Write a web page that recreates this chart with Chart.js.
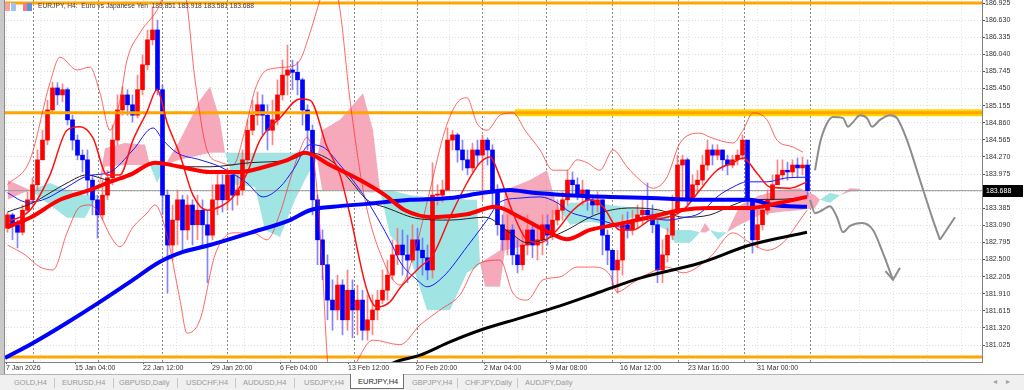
<!DOCTYPE html>
<html>
<head>
<meta charset="utf-8">
<title>EURJPY,H4</title>
<script src="https://cdn.jsdelivr.net/npm/chart.js@4.4.1/dist/chart.umd.min.js"></script>
<style>
  html, body { margin: 0; padding: 0; background: #fff; }
  body { width: 1024px; height: 390px; position: relative; overflow: hidden; font-family: "Liberation Sans", Arial, sans-serif; }
  #chart { position: absolute; left: 0; top: 0; }
  #frame { position: absolute; left: 0; top: 0; width: 4px; height: 374px; background: #c9c9c9; border-right: 1px solid #8c8c8c; }
  #head { position: absolute; left: 38px; top: 2px; font-size: 6.7px; color: #3a3a3a; white-space: pre; }
  .ico { position: absolute; top: 3px; height: 8px; }
  #tabs { position: absolute; left: 0; top: 374px; width: 1024px; height: 16px; background: #f0f0f0; border-top: 1px solid #b4b4b4; box-sizing: border-box; }
  .tab { position: absolute; top: 3px; font-size: 7.5px; color: #9a9a9a; white-space: nowrap; }
  .sep { position: absolute; top: 3px; width: 1px; height: 10px; background: #c8c8c8; }
  #active { position: absolute; left: 350px; top: -1px; width: 52px; height: 14px; background: #fff; border: 1px solid #707070; border-top: none; }
  #active span { position: absolute; left: 7px; top: 3px; font-size: 7.5px; color: #2a2a2a; white-space: nowrap; }
  .arr { position: absolute; top: 2px; font-size: 8px; color: #a0a0a0; font-family: "DejaVu Sans", sans-serif; }
</style>
</head>
<body>
<canvas id="chart" width="1024" height="374"></canvas>
<div id="frame"></div>
<div class="ico" style="left:5px;width:11px;background:linear-gradient(90deg,#f3a0a0 0 45%,#fff 45% 55%,#a0c4f0 55%);"></div>
<div class="ico" style="left:23px;width:9px;background:linear-gradient(90deg,#f08080 0 50%,#6090e0 50%);"></div>
<div id="head">EURJPY, H4:  Euro vs Japanese Yen  183.851 183.918 183.581 183.688</div>
<div id="tabs">
  <span class="tab" style="left:14px">GOLD,H4</span><div class="sep" style="left:54px"></div>
  <span class="tab" style="left:62px">EURUSD,H4</span><div class="sep" style="left:113px"></div>
  <span class="tab" style="left:119px">GBPUSD,Daily</span><div class="sep" style="left:177px"></div>
  <span class="tab" style="left:186px">USDCHF,H4</span><div class="sep" style="left:235px"></div>
  <span class="tab" style="left:243px">AUDUSD,H4</span><div class="sep" style="left:294px"></div>
  <span class="tab" style="left:304px">USDJPY,H4</span>
  <div id="active"><span>EURJPY,H4</span></div>
  <span class="tab" style="left:412px">GBPJPY,H4</span><div class="sep" style="left:457px"></div>
  <span class="tab" style="left:465px">CHFJPY,Daily</span><div class="sep" style="left:517px"></div>
  <span class="tab" style="left:525px">AUDJPY,Daily</span>
  <span class="arr" style="left:993px">&#9666;</span><span class="arr" style="left:1006px">&#9656;</span>
</div>
<script>
// EURJPY H4 candles (one bar every 5 px of the original picture)
var firstOpen = 183.04;
var closes = [
	183.27,183.10,182.97,183.35,183.53,183.79,184.22,184.56,185.08,185.46,
	185.34,185.43,184.91,184.56,184.30,184.22,183.87,183.53,183.27,183.61,
	183.91,184.56,185.08,185.34,185.17,184.99,185.43,185.86,186.29,186.46,
	185.43,183.61,182.75,183.18,183.53,183.01,183.44,183.10,183.35,183.10,
	182.92,183.53,183.79,183.53,183.96,183.61,183.70,184.22,184.73,184.99,
	185.17,184.99,184.73,184.91,185.34,185.68,185.77,185.73,185.60,185.08,
	184.73,183.53,182.84,182.41,181.80,181.63,182.06,181.46,181.97,181.63,
	181.80,181.28,181.46,181.63,181.80,181.97,182.23,182.58,182.75,182.58,
	182.49,182.84,182.66,182.53,182.32,183.61,183.61,183.70,184.56,184.65,
	184.39,184.22,184.08,184.39,184.30,184.56,184.39,183.70,183.10,182.84,
	183.01,182.58,182.41,182.75,183.01,182.75,182.84,183.10,182.92,183.18,
	183.35,183.53,183.87,183.79,183.61,183.70,183.53,183.44,183.53,182.92,
	182.66,182.32,182.49,183.10,183.01,183.18,183.27,183.35,183.27,183.10,
	182.32,182.58,182.92,183.35,184.13,184.22,183.53,183.79,183.87,184.13,
	184.39,184.30,184.39,184.22,184.13,184.22,184.30,184.56,183.53,182.84,
	183.10,183.35,183.53,183.79,183.96,184.04,184.01,184.13,184.08,184.13,
	183.688
];
var highs = [
	183.32,183.30,183.18,183.44,183.67,183.91,184.39,184.73,185.25,185.56,
	185.55,185.53,185.46,184.99,184.65,184.39,184.39,183.96,183.61,183.87,
	184.04,184.82,185.34,185.48,185.43,185.34,185.68,186.03,186.46,186.86,
	186.63,185.51,183.70,183.44,183.70,183.61,183.61,183.53,183.61,183.53,
	183.35,183.79,184.01,183.96,184.08,184.04,183.96,184.39,184.91,185.25,
	185.39,185.34,185.17,185.25,185.60,185.94,186.20,185.94,185.91,185.63,
	185.17,184.82,183.61,183.01,182.58,182.15,182.23,182.15,182.32,182.15,
	182.06,181.97,181.89,181.89,181.97,182.32,182.49,182.84,183.04,183.01,
	182.92,183.10,183.04,182.87,182.75,184.17,183.79,183.87,184.77,184.73,
	184.68,184.56,184.39,184.51,184.56,184.65,184.60,184.48,183.79,183.27,
	183.27,183.10,182.84,183.01,183.27,183.15,183.10,183.27,183.27,183.35,
	183.53,183.67,184.04,184.01,183.91,183.87,183.70,183.61,183.67,183.53,
	183.01,182.66,182.66,183.27,183.32,183.35,183.44,183.53,183.82,183.44,
	183.18,182.84,183.04,183.61,184.30,184.30,184.25,183.96,184.04,184.30,
	184.56,184.48,184.48,184.39,184.30,184.30,184.39,184.65,184.56,183.53,
	183.35,183.53,183.70,183.96,184.22,184.22,184.18,184.22,184.25,184.27,
	184.22
];
var lows = [
	182.97,182.84,182.70,182.92,183.32,183.44,183.70,184.22,184.48,185.05,
	185.17,185.22,184.82,184.39,184.22,184.01,183.61,183.27,182.87,183.18,
	183.53,183.79,184.48,184.99,184.99,184.87,184.94,185.34,185.77,186.20,
	185.34,183.27,181.92,182.49,182.75,182.66,182.84,182.75,182.84,182.75,
	182.10,182.84,183.27,183.32,183.35,183.35,183.44,183.61,184.13,184.65,
	184.82,184.65,184.39,184.48,184.82,185.25,185.34,185.43,185.34,184.82,
	184.39,183.27,182.41,182.15,181.46,181.28,181.46,181.20,181.28,181.15,
	181.20,181.11,181.11,181.20,181.46,181.74,181.80,182.15,182.41,182.23,
	182.10,182.46,182.32,182.23,182.15,182.18,183.44,183.49,183.69,184.39,
	184.18,184.04,183.96,184.01,184.13,183.53,184.13,183.44,182.92,182.66,
	182.58,182.41,182.27,182.32,182.58,182.53,182.49,182.58,182.75,182.84,
	183.10,183.18,183.44,183.61,183.53,183.44,183.35,183.27,183.32,182.58,
	182.41,182.06,181.92,182.23,182.87,182.92,183.04,183.10,183.15,182.96,
	182.10,182.10,182.46,182.84,183.27,183.53,183.44,183.53,183.67,183.79,
	184.04,184.13,184.22,184.04,183.96,184.08,184.13,184.22,183.35,182.61,
	182.70,183.01,183.27,183.53,183.79,183.87,183.87,183.91,183.91,183.96,
	183.58
];

// indicator lines: [bar position, price]
var maThickRed = [[0,183.06],[4.5,183.22],[10.5,183.53],[16.5,183.70],[20.5,183.84],[24.5,183.96],[29.5,184.17],[34.5,184.10],[40.5,184.01],[46.5,184.01],[51.5,184.10],[55.5,184.20],[59.5,184.34],[64.5,184.13],[70.5,183.87],[75.5,183.61],[79.5,183.35],[85.1,183.23],[91.9,183.28],[97.5,183.41],[102.5,183.23],[108.5,182.96],[111.9,182.85],[116.5,183.01],[121.5,183.10],[128.5,183.23],[134.5,183.35],[140.5,183.39],[148.5,183.39],[154.5,183.48],[159.9,183.58]];
var maThinBlack = [[0,183.32],[5.1,183.48],[8.5,183.65],[11.9,183.82],[15.9,183.96],[20.5,183.87],[25.1,184.01],[30.5,184.17],[35.5,184.10],[40.5,184.10],[48.5,184.17],[56.5,184.22],[60.5,184.34],[65.1,184.18],[68.5,183.87],[71.9,183.53],[75.9,183.39],[82.5,183.20],[88.5,183.18],[95.5,183.23],[100.5,182.96],[103.9,182.79],[106.5,182.82],[111.9,183.01],[116.5,183.23],[120.5,183.35],[125.1,183.39],[130.5,183.35],[135.1,183.23],[140.5,183.27],[145.1,183.44],[148.5,183.53],[155.1,183.54],[159.9,183.58]];
var maThinBlue = [[0,183.65],[3.9,183.49],[7.1,183.53],[11.9,183.75],[15.9,183.94],[20.5,184.01],[25.1,184.39],[29.1,184.77],[31.1,184.56],[33.9,184.34],[38.5,184.22],[42.5,184.10],[47.9,183.82],[51.1,183.58],[54.5,183.75],[57.1,184.04],[60.5,184.48],[63.1,184.44],[66.5,184.13],[70.5,183.70],[73.9,183.23],[77.1,182.72],[78.5,182.46],[81.9,182.15],[83.9,182.03],[87.1,182.20],[91.9,182.72],[95.9,183.18],[98.5,183.49],[102.5,183.56],[106.5,183.58],[109.9,183.48],[112.5,183.32],[115.9,183.23],[120.5,183.13],[122.5,183.06],[127.1,183.23],[131.9,183.18],[135.1,183.22],[138.5,183.30],[141.9,183.58],[145.1,183.75],[147.9,183.84],[151.9,183.84],[155.9,183.91],[159.9,183.92]];
var maThickBlue = [[-0.5,180.80],[5.1,181.06],[11.9,181.41],[18.5,181.77],[25.1,182.15],[30.5,182.46],[35.1,182.63],[40.5,182.75],[48.5,182.96],[56.5,183.18],[60.5,183.35],[65.1,183.41],[71.9,183.46],[80.5,183.53],[88.5,183.56],[95.1,183.65],[100.5,183.70],[105.1,183.65],[111.9,183.61],[120.5,183.58],[128.5,183.56],[138.5,183.53],[148.5,183.53],[153.1,183.44],[159.9,183.41]];
var maThickBlack = [[75.5,180.63],[77.5,180.73],[82.5,180.85],[88.5,181.08],[94.5,181.28],[102.5,181.49],[110.5,181.70],[118.5,181.94],[126.5,182.18],[138.5,182.44],[148.5,182.75],[159.9,182.97]];
var bbMiddle = [[0,183.15],[4.5,183.35],[8.5,183.96],[11.9,184.73],[14.5,184.79],[17.1,184.60],[19.9,183.96],[22.5,183.96],[25.1,184.56],[27.9,185.05],[29.9,185.43],[31.9,184.87],[34.5,184.30],[37.1,183.61],[39.9,183.35],[42.5,183.41],[45.1,183.58],[47.9,183.99],[50.5,184.56],[54.5,184.94],[58.5,185.27],[60.5,185.25],[63.9,184.44],[66.5,183.96],[68.5,183.27],[71.9,181.97],[73.9,181.68],[76.5,181.77],[78.5,182.01],[82.5,182.37],[85.1,182.58],[88.5,183.23],[91.9,183.82],[94.5,184.17],[96.5,184.27],[98.5,183.92],[101.1,183.30],[103.9,182.84],[106.5,182.79],[109.9,183.01],[113.1,183.35],[116.5,183.53],[119.1,183.41],[122.5,183.01],[125.1,183.01],[128.5,183.18],[131.9,183.23],[135.1,183.35],[138.5,183.70],[141.9,184.04],[145.1,184.17],[147.1,184.25],[149.9,183.99],[152.5,183.75],[156.5,183.73],[159.9,183.84]];
var bbUpper = [[0,183.79],[4.5,184.22],[8.5,185.55],[10.5,185.99],[13.9,185.77],[16.5,185.82],[18.5,185.37],[20.5,184.73],[22.5,185.25],[23.9,185.94],[26.5,186.41],[29.9,186.80],[32.5,187.24],[35.5,187.06],[37.5,185.60],[39.9,184.39],[42.5,184.18],[45.1,184.13],[47.5,184.73],[49.5,185.43],[51.9,185.77],[55.9,185.82],[58.5,185.94],[60.5,186.41],[62.5,186.98],[64.5,187.49],[66.5,186.80],[68.5,185.25],[71.5,183.53],[75.1,182.49],[78.5,182.06],[81.5,182.66],[84.5,183.70],[87.5,184.73],[89.9,185.20],[91.9,185.29],[93.9,184.85],[95.9,184.73],[98.5,184.99],[101.1,185.03],[103.5,184.73],[106.5,184.39],[109.1,184.04],[111.9,184.04],[113.9,184.22],[115.9,184.17],[118.5,184.04],[121.1,184.39],[123.9,184.10],[126.5,183.87],[129.1,183.73],[131.9,183.92],[134.5,184.51],[138.5,184.68],[140.5,184.61],[145.1,184.51],[147.1,184.73],[149.1,185.03],[151.9,184.91],[153.9,184.56],[157.1,184.44],[159.1,184.35]];
var bbLower = [[0,182.75],[3.5,182.58],[6.5,182.37],[9.1,182.32],[11.9,182.96],[14.5,183.41],[16.5,183.44],[18.5,183.27],[20.5,182.92],[22.5,182.72],[25.1,183.06],[27.9,183.30],[29.5,183.44],[31.9,182.92],[34.5,181.80],[35.9,181.23],[38.5,181.46],[41.5,182.58],[45.1,182.96],[49.1,182.96],[51.9,182.84],[54.5,183.30],[56.5,183.87],[58.5,184.39],[59.9,184.61],[61.5,184.04],[62.9,182.49],[64.1,180.68],[66.5,180.16],[69.5,180.68],[73.1,181.11],[78.5,181.03],[82.5,181.37],[86.5,181.63],[90.5,181.89],[93.9,182.41],[98.5,182.49],[101.1,181.92],[103.9,181.80],[107.1,182.15],[110.5,182.20],[113.9,182.37],[117.1,182.37],[120.5,182.23],[121.9,181.94],[125.1,182.10],[128.5,182.27],[131.9,182.37],[135.1,182.27],[140.5,182.54],[145.1,182.96],[148.5,182.79],[151.9,182.66],[155.1,182.79],[158.5,183.18],[159.9,183.35]];

// Ichimoku cloud edges (span A, span B) shifted forward
var cloudAt = [0,4.5,8.5,11.9,15.5,17.9,19.5,23.5,27.5,28.5,29.9,31.5,34.5,38.5,40.5,42.5,43.5,45.5,49.5,51.5,54.5,57.5,60.5,61.9,62.9,66.5,71.1,73.1,74.5,76.5,80.5,83.9,88.5,91.9,93.9,94.5,95.5,98.5,99.5,104.5,107.9,109.5,110.5,112.5,116.5,120.5,123.5,126.5,127.5,129.5,131.9,133.5,136.5,138.5,139.5,140.5,142.1,143.9,146.5,150.5,154.5,158.5,161.5,162.5,164.5,166.5,168.5,170.5];
var spanA = [183.87,183.70,183.44,183.22,183.22,183.61,184.42,184.51,184.48,184.13,183.82,184.13,184.56,185.25,185.48,184.91,184.34,183.79,183.75,183.01,182.89,183.53,184.04,184.22,184.73,184.91,185.37,184.73,183.70,182.92,182.54,181.63,181.63,182.27,182.37,182.44,182.49,182.66,183.70,183.87,184.04,183.53,183.35,183.10,183.15,183.10,183.18,183.27,183.35,183.10,183.01,182.79,182.79,182.97,183.13,183.01,182.84,182.97,183.44,183.61,183.70,183.73,183.61,183.53,183.48,183.61,183.73,183.72];
var spanB = [183.53,183.70,183.82,183.70,183.61,183.61,184.10,184.13,184.13,184.13,184.17,184.13,184.22,184.30,184.34,184.34,184.34,184.34,184.34,184.34,184.34,184.34,184.34,184.22,183.70,183.70,183.67,183.65,183.70,183.70,183.61,183.58,183.58,183.53,183.53,182.44,182.03,182.03,182.66,182.75,182.92,183.27,183.35,183.48,183.49,183.44,183.41,183.39,183.35,183.35,183.30,183.01,183.01,182.97,182.96,183.01,182.97,182.97,183.10,183.27,183.32,183.35,183.39,183.53,183.65,183.61,183.67,183.68];

// drawn price levels and the hand-drawn scenario arrows
var levelPrices = [186.925, 185.03, 180.82];
var zoneLevel = 185.03, zoneFrom = 101.5;
var scenarioUp = [[161.5,184.04],[162.5,184.51],[163.9,184.85],[165.1,184.96],[167.1,184.94],[168.1,184.79],[169.1,184.87],[170.5,184.99],[171.9,184.94],[172.9,184.79],[174.5,184.91],[176.5,184.99],[177.9,184.94],[179.9,184.56],[182.5,183.87],[185.1,183.18],[186.5,182.84]];
var scenarioUpHead = [[186.5,182.84],[189.5,183.23]];
var scenarioDown = [[160.5,183.53],[161.5,183.30],[162.9,183.35],[164.5,183.42],[165.9,183.23],[167.1,182.97],[168.5,183.08],[170.9,183.13],[173.1,183.01],[175.1,182.61],[177.1,182.15]];
var scenarioDownHead = [[175.6,182.30],[177.1,182.15],[178.5,182.36]];

// axes
var priceTicks = ['186.925','186.630','186.335','186.040','185.745','185.450','185.155','184.860','184.565','184.270','183.975','183.680','183.385','183.090','182.795','182.500','182.205','181.910','181.615','181.320','181.025'];
var timeLabels = ['7 Jan 2026','15 Jan 04:00','22 Jan 12:00','29 Jan 20:00','6 Feb 04:00','13 Feb 12:00','20 Feb 20:00','2 Mar 04:00','9 Mar 08:00','16 Mar 12:00','23 Mar 16:00','31 Mar 00:00'];
var timeLabelAt = [-0.3,13.5,27.1,40.9,54.5,68.1,81.7,95.3,108.5,122.5,136.1,149.9];
var weekStarts = [5.1,18.1,30.9,43.9,56.5,69.3,81.9,94.9,107.7,120.9,134.1,147.3,160.5];

/*******************************************************************************
 * build the chart
 *******************************************************************************/

var opens = [firstOpen].concat(closes.slice(0, closes.length - 1));
var lastClose = closes[closes.length - 1];
var xMin = -0.5, xMax = 194.9;

function pts(arr)
{
	return arr.map(function (p) { return { x: p[0], y: p[1] }; });
}

function lineSet(arr, color, width, order, smooth)
{
	return {
		type: 'line',
		data: pts(arr),
		borderColor: color,
		borderWidth: width,
		pointRadius: 0,
		fill: false,
		cubicInterpolationMode: smooth ? 'monotone' : 'default',
		tension: 0,
		order: order
	};
}

var bodyColors = [], wickColors = [], bodies = [], wicks = [];
for (var i = 0; i < closes.length; i++)
{
	var isUp = closes[i] >= opens[i];
	bodyColors.push(isUp ? '#ff0000' : '#0000ff');
	wickColors.push(isUp ? 'rgba(255,100,100,0.8)' : 'rgba(100,100,255,0.8)');
	bodies.push({ x: i, y: [opens[i], closes[i]] });
	wicks.push({ x: i, y: [lows[i], highs[i]] });
}

// light grid: at every time label and half way between
var gridAt = [];
var step = (timeLabelAt[timeLabelAt.length - 1] - timeLabelAt[0]) / (timeLabelAt.length - 1);
for (var g = timeLabelAt[0]; g < xMax; g += step / 2)
{
	if (g > xMin) gridAt.push(g);
}
var labelAtIndex = {};
timeLabelAt.forEach(function (v, k) { labelAtIndex[v.toFixed(2)] = k; });
gridAt = gridAt.map(function (v) {
	var nearest = timeLabelAt.filter(function (t) { return Math.abs(t - v) < 2; });
	return nearest.length ? nearest[0] : v;
});

var datasets = [
	lineSet(scenarioUp, '#8c8c8c', 2, 0, true),
	lineSet(scenarioUpHead, '#8c8c8c', 2, 0, false),
	lineSet(scenarioDown, '#8c8c8c', 2, 0, true),
	lineSet(scenarioDownHead, '#8c8c8c', 2, 0, false),
	lineSet(maThickRed, '#ff0000', 4, 1, true),
	lineSet(maThickBlue, '#0000ff', 4, 2, true),
	lineSet(maThickBlack, '#000000', 3, 3, true),
	lineSet(bbMiddle, '#ff1010', 1.5, 4, true),
	lineSet(maThinBlue, '#1a1aff', 1, 5, true),
	lineSet(maThinBlack, '#222222', 1, 6, true),
	lineSet(bbUpper, 'rgba(255,40,40,0.7)', 1, 7, true),
	lineSet(bbLower, 'rgba(255,40,40,0.7)', 1, 8, true)
];
levelPrices.forEach(function (p) {
	datasets.push(lineSet([[xMin, p], [xMax, p]], '#ffa500', 3, 9, false));
});
datasets.push(lineSet([[zoneFrom, zoneLevel], [xMax, zoneLevel]], '#ffd700', 7, 10, false));
datasets.push({
	type: 'bar', data: bodies, backgroundColor: bodyColors, barThickness: 4,
	grouped: false, borderWidth: 0, minBarLength: 1, order: 11
});
datasets.push({
	type: 'bar', data: wicks, backgroundColor: wickColors, barThickness: 1,
	grouped: false, borderWidth: 0, order: 12
});
datasets.push(lineSet([[xMin, lastClose], [xMax, lastClose]], '#9a9a9a', 1, 13, false));

var spanBIndex = datasets.length + 1;
datasets.push({
	type: 'line',
	data: cloudAt.map(function (x, k) { return { x: x, y: spanA[k] }; }),
	borderWidth: 0, pointRadius: 0, tension: 0, order: 14,
	fill: { target: spanBIndex, above: 'rgba(245,160,180,0.9)', below: 'rgba(150,225,225,0.9)' }
});
datasets.push({
	type: 'line',
	data: cloudAt.map(function (x, k) { return { x: x, y: spanB[k] }; }),
	borderWidth: 0, pointRadius: 0, tension: 0, fill: false, order: 15
});

var chartPlugin = {
	id: 'mtExtras',
	beforeDatasetsDraw: function (chart)
	{
		var ctx = chart.ctx, a = chart.chartArea, x = chart.scales.x;
		ctx.save();
		ctx.strokeStyle = '#8a8a8a';
		ctx.lineWidth = 1;
		ctx.setLineDash([2, 2]);
		weekStarts.forEach(function (w) {
			var px = Math.round(x.getPixelForValue(w)) + 0.5;
			ctx.beginPath();
			ctx.moveTo(px, a.top);
			ctx.lineTo(px, a.bottom);
			ctx.stroke();
		});
		ctx.restore();
	},
	afterDraw: function (chart)
	{
		var ctx = chart.ctx, a = chart.chartArea, y = chart.scales.y;
		var py = Math.round(y.getPixelForValue(lastClose));
		ctx.save();
		ctx.fillStyle = '#000';
		ctx.fillRect(a.right + 1, py - 6, 40, 12);
		ctx.fillStyle = '#fff';
		ctx.font = '7px "Liberation Sans"';
		ctx.textBaseline = 'middle';
		ctx.fillText(lastClose.toFixed(3), a.right + 4, py + 0.5);
		ctx.restore();
	}
};

new Chart(document.getElementById('chart').getContext('2d'), {
	type: 'line',
	data: { datasets: datasets },
	plugins: [chartPlugin],
	options: {
		responsive: false,
		animation: false,
		devicePixelRatio: 1,
		events: [],
		layout: { padding: { left: 5, right: 0, top: 0, bottom: 0 } },
		plugins: { legend: { display: false }, tooltip: { enabled: false } },
		scales: {
			x: {
				type: 'linear', min: xMin, max: xMax, offset: false,
				grid: {
					offset: false, color: '#e4e4e4', lineWidth: 1, drawTicks: true, tickLength: 2,
					tickColor: function (c) { return c.tick && labelAtIndex[c.tick.value.toFixed(2)] !== undefined ? '#555' : 'rgba(0,0,0,0)'; }
				},
				border: { display: true, color: '#808080', dash: [1, 2] },
				ticks: {
					autoSkip: false, maxRotation: 0, minRotation: 0, align: 'start', padding: 0,
					color: '#333', font: { family: 'Liberation Sans', size: 7 },
					callback: function (v) {
						var k = labelAtIndex[Number(v).toFixed(2)];
						return k === undefined ? '' : timeLabels[k];
					}
				},
				afterBuildTicks: function (s) { s.ticks = gridAt.map(function (v) { return { value: v }; }); },
				afterFit: function (s) { s.height = 12; s.paddingLeft = 0; s.paddingRight = 0; }
			},
			y: {
				type: 'linear', position: 'right', min: 180.732, max: 186.977,
				grid: { color: '#dedede', lineWidth: 1, drawTicks: true, tickLength: 3, tickColor: '#555' },
				border: { display: true, color: '#808080', dash: [1, 2] },
				ticks: {
					padding: 0, color: '#333', font: { family: 'Liberation Sans', size: 7 },
					callback: function (v, k) { return priceTicks[k]; }
				},
				afterBuildTicks: function (s) { s.ticks = priceTicks.map(function (t) { return { value: parseFloat(t) }; }); },
				afterFit: function (s) { s.width = 42; s.paddingTop = 0; s.paddingBottom = 0; }
			}
		}
	}
});
</script>
</body>
</html>
